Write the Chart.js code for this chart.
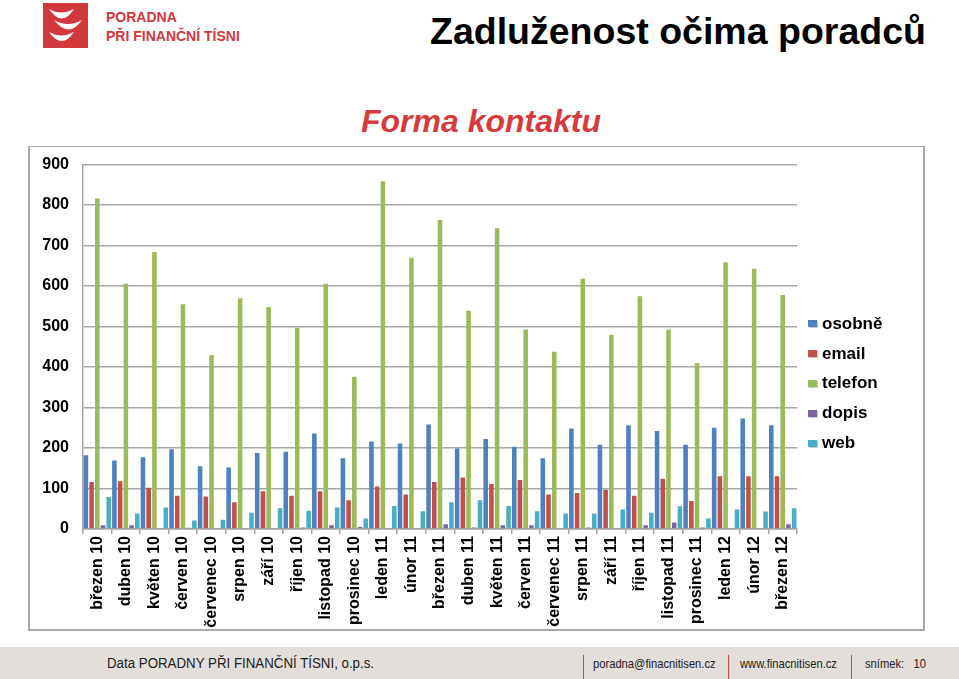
<!DOCTYPE html>
<html>
<head>
<meta charset="utf-8">
<script src="https://cdn.jsdelivr.net/npm/chart.js@4.4.1/dist/chart.umd.min.js"></script>
<style>
  body { margin: 0; width: 959px; height: 679px; background: #fff; position: relative; overflow: hidden; font-family: "Liberation Sans", Arial, sans-serif; }
  .abs { position: absolute; white-space: nowrap; }
  #logoText { left: 106px; color: #d2373c; font-weight: bold; font-size: 14px; line-height: 1; }
  #title { left: 430px; top: 13px; font-size: 37.5px; font-weight: bold; line-height: 1; color: #000; }
  #subtitle { left: 0; width: 962px; text-align: center; top: 105px; font-size: 32px; font-weight: bold; font-style: italic; line-height: 1; color: #d53a3c; }
  #frame { left: 28px; top: 146px; width: 893px; height: 482px; border: 2px solid #a8a8a8; border-top-width: 1.5px; }
  #myChart { position: absolute; left: 28px; top: 141px; }
  #legend { left: 808px; top: 309px; }
  .item { height: 29.8px; display: flex; align-items: center; font-size: 17px; font-weight: bold; color: #000; }
  .item span.box { display: inline-block; width: 9px; height: 7px; margin-right: 5px; box-shadow: 1px 1px 0 #c8c8c8; }
  #footer { left: 0; top: 647px; width: 959px; height: 32px; background: #e3deda; }
  .ft { position: absolute; top: 9px; font-size: 14px; line-height: 1; color: #222; transform-origin: left top; transform: scaleX(0.86); white-space: nowrap; }
  .sep { position: absolute; top: 8px; width: 1px; height: 24px; background: #c8474a; }
</style>
</head>
<body>
<svg class="abs" style="left:43px;top:3px" width="45" height="45">
  <rect width="45" height="45" fill="#d2373c"/>
  <path d="M6 6 Q18 13 31 6 Q19 25 6 6 Z" fill="#fff"/>
  <path d="M11 17 Q25 25 39 17 Q26 36 11 17 Z" fill="#fff"/>
  <path d="M6 29 Q18 36 31 29 Q19 47 6 29 Z" fill="#fff"/>
</svg>
<div id="logoText" class="abs" style="top:10px">PORADNA<br><div style="height:5px"></div>PŘI FINANČNÍ TÍSNI</div>
<div id="title" class="abs">Zadluženost očima poradců</div>
<div id="subtitle" class="abs">Forma kontaktu</div>
<div id="frame" class="abs"></div>
<canvas id="myChart" width="895" height="489"></canvas>
<div id="legend" class="abs"></div>
<div id="footer" class="abs">
  <div class="ft" style="left:107px;transform:scaleX(0.95)">Data PORADNY PŘI FINANČNÍ TÍSNI, o.p.s.</div>
  <div class="sep" style="left:583px"></div>
  <div class="ft" style="left:593px;font-size:13px;top:10px">poradna@finacnitisen.cz</div>
  <div class="sep" style="left:728px"></div>
  <div class="ft" style="left:740px;font-size:13px;top:10px">www.finacnitisen.cz</div>
  <div class="sep" style="left:851px"></div>
  <div class="ft" style="left:865px;font-size:13px;top:10px">snímek:&nbsp;&nbsp;&nbsp;10</div>
</div>
<script>
const months = [
  'březen 10', 'duben 10', 'květen 10', 'červen 10', 'červenec 10', 'srpen 10', 'září 10', 'říjen 10',
  'listopad 10', 'prosinec 10', 'leden 11', 'únor 11', 'březen 11', 'duben 11', 'květen 11', 'červen 11',
  'červenec 11', 'srpen 11', 'září 11', 'říjen 11', 'listopad 11', 'prosinec 11', 'leden 12', 'únor 12', 'březen 12'
];
const osobne  = [182, 169, 177, 197, 155, 152, 188, 191, 236, 175, 216, 211, 258, 199, 222, 203, 175, 248, 208, 256, 242, 208, 250, 273, 256];
const email   = [116, 118, 102, 82, 80, 66, 93, 82, 93, 71, 105, 85, 116, 127, 111, 121, 85, 89, 97, 82, 124, 69, 130, 130, 130];
const telefon = [816, 606, 684, 555, 430, 570, 548, 497, 606, 376, 859, 670, 763, 539, 743, 493, 438, 618, 480, 575, 493, 410, 659, 643, 578];
const dopis   = [9, 9, 2, 3, 2, 2, 2, 4, 9, 5, 1, 2, 12, 4, 9, 9, 2, 4, 2, 9, 16, 4, 2, 1, 12];
const web     = [79, 38, 53, 21, 23, 40, 51, 45, 53, 26, 57, 44, 66, 71, 57, 44, 38, 38, 48, 40, 56, 26, 48, 43, 51];
const yTicks  = [0, 100, 200, 300, 400, 500, 600, 700, 800, 900];

const series = [
  { label: 'osobně', data: osobne, color: '#4f81bd' },
  { label: 'email', data: email, color: '#c0504d' },
  { label: 'telefon', data: telefon, color: '#9bbb59' },
  { label: 'dopis', data: dopis, color: '#8064a2' },
  { label: 'web', data: web, color: '#4bacc6' }
];

const gridGray = '#a6a6a6';

const config = {
  type: 'bar',
  data: {
    labels: months,
    datasets: series.map(function (s) {
      return {
        label: s.label,
        data: s.data,
        backgroundColor: s.color,
        categoryPercentage: 1.0,
        barPercentage: 0.8
      };
    })
  },
  options: {
    responsive: false,
    animation: false,
    layout: { padding: { top: 0, right: 126, left: 0, bottom: 0 } },
    plugins: { legend: { display: false }, tooltip: { enabled: false } },
    scales: {
      x: {
        afterFit: function (scale) { scale.height = 101; },
        grid: { drawOnChartArea: false, drawTicks: true, tickLength: 5, color: gridGray, lineWidth: 1.5 },
        border: { display: true, color: gridGray, width: 1.5 },
        ticks: {
          autoSkip: false, minRotation: 90, maxRotation: 90, padding: 2,
          color: '#000', font: { family: 'Liberation Sans', size: 16, weight: 'bold' }
        }
      },
      y: {
        min: 0, max: 900,
        afterFit: function (scale) { scale.width = 55; },
        afterBuildTicks: function (scale) { scale.ticks = yTicks.map(function (v) { return { value: v }; }); },
        grid: { drawTicks: false, color: gridGray, lineWidth: 1.5 },
        border: { display: true, color: gridGray, width: 1.5 },
        ticks: {
          padding: 14, color: '#000',
          font: { family: 'Liberation Sans', size: 16, weight: 'bold' }
        }
      }
    }
  }
};

const myChart = new Chart(document.getElementById('myChart'), config);

// legend
var legend = document.getElementById('legend');
series.forEach(function (s) {
  var row = document.createElement('div');
  row.className = 'item';
  row.innerHTML = '<span class="box" style="background:' + s.color + '"></span>' + s.label;
  legend.appendChild(row);
});
</script>
</body>
</html>
